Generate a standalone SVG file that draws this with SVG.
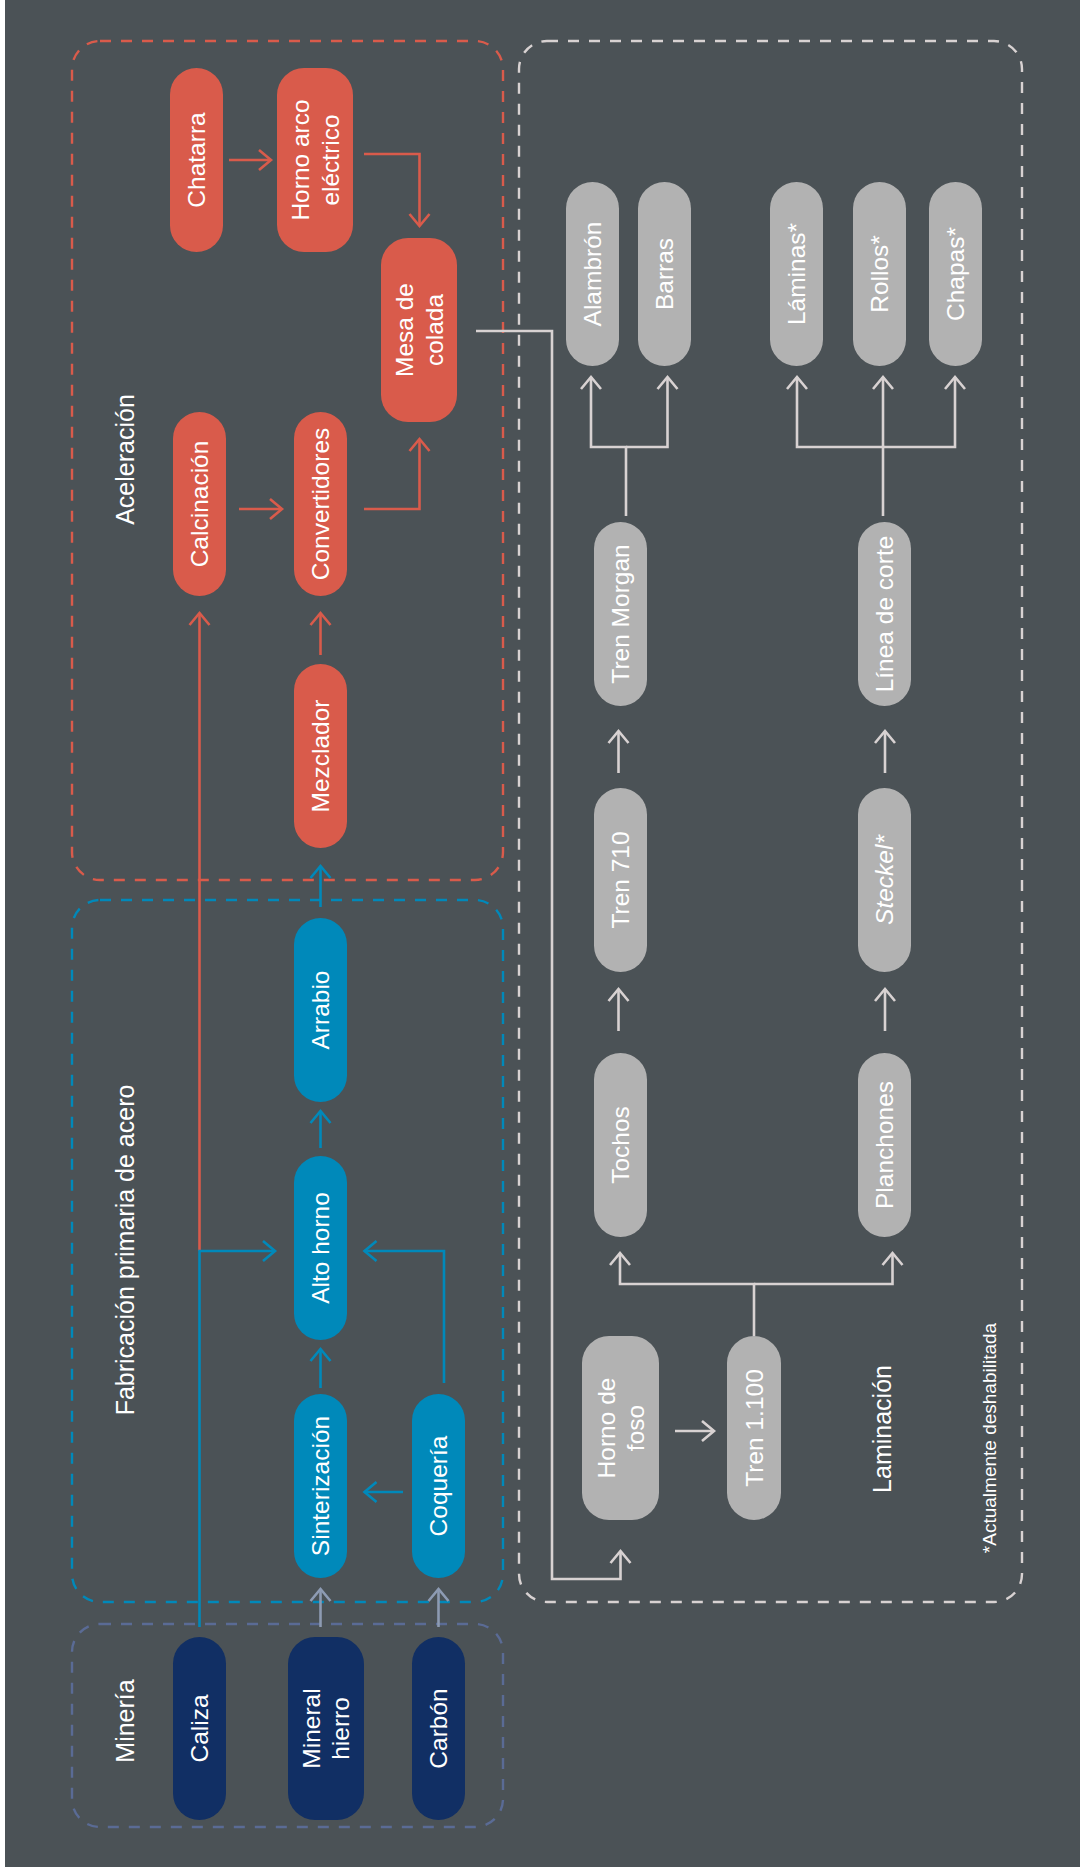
<svg xmlns="http://www.w3.org/2000/svg" width="1080" height="1872" viewBox="0 0 1080 1872">
<defs>
<style>
.t{font-family:"Liberation Sans",Arial,Helvetica,sans-serif;fill:#ffffff;font-size:24.5px;text-anchor:middle}
.lab{font-family:"Liberation Sans",Arial,Helvetica,sans-serif;fill:#ffffff;font-size:25px;text-anchor:middle}
.note{font-family:"Liberation Sans",Arial,Helvetica,sans-serif;fill:#ffffff;font-size:19px;text-anchor:middle}
.red{fill:#d95b4b}
.blue{fill:#0089ba}
.navy{fill:#112f64}
.grey{fill:#b2b2b2}
.box{fill:none;stroke-width:2.4;stroke-dasharray:11 10}
.c{fill:none;stroke-width:2.6;stroke-linejoin:miter}
.cr{stroke:#d95b4b;marker-end:url(#ar)}
.cb{stroke:#0089ba;marker-end:url(#ab)}
.cs{stroke:#8d9bb3;marker-end:url(#as)}
.cl{stroke:#d8d2d2;marker-end:url(#al)}
.nm{marker-end:none}
</style>
<marker id="ar" viewBox="-15 -12 20 24" refX="0" refY="0" markerWidth="20" markerHeight="24" markerUnits="userSpaceOnUse" orient="auto"><path d="M-12,-10 L0,0 L-12,10" fill="none" stroke="#d95b4b" stroke-width="2.6"/></marker>
<marker id="ab" viewBox="-15 -12 20 24" refX="0" refY="0" markerWidth="20" markerHeight="24" markerUnits="userSpaceOnUse" orient="auto"><path d="M-12,-10 L0,0 L-12,10" fill="none" stroke="#0089ba" stroke-width="2.6"/></marker>
<marker id="as" viewBox="-15 -12 20 24" refX="0" refY="0" markerWidth="20" markerHeight="24" markerUnits="userSpaceOnUse" orient="auto"><path d="M-12,-10 L0,0 L-12,10" fill="none" stroke="#8d9bb3" stroke-width="2.6"/></marker>
<marker id="al" viewBox="-15 -12 20 24" refX="0" refY="0" markerWidth="20" markerHeight="24" markerUnits="userSpaceOnUse" orient="auto"><path d="M-12,-10 L0,0 L-12,10" fill="none" stroke="#d8d2d2" stroke-width="2.6"/></marker>
</defs>
<rect x="0" y="0" width="1080" height="1872" fill="#ffffff"/>
<rect x="5" y="0" width="1075" height="1867" fill="#4b5256"/>

<g id="groups">
<g id="g-aceleracion"><rect class="box" x="72" y="41" width="431" height="839" rx="28" stroke="#d95b4b"/><text class="lab" transform="translate(125,459.5) rotate(-90)" dy="0.35em">Aceleración</text></g>
<g id="g-fabricacion"><rect class="box" x="72" y="900" width="431" height="702" rx="28" stroke="#0089ba"/><text class="lab" transform="translate(125,1250) rotate(-90)" dy="0.35em">Fabricación primaria de acero</text></g>
<g id="g-mineria"><rect class="box" x="72" y="1624" width="431" height="203" rx="28" stroke="#5a6b95"/><text class="lab" transform="translate(125,1721) rotate(-90)" dy="0.35em">Minería</text></g>
<g id="g-laminacion"><rect class="box" x="519" y="41" width="503" height="1561" rx="28" stroke="#d8d2d2"/><text class="lab" transform="translate(882,1429) rotate(-90)" dy="0.35em">Laminación</text><text class="note" transform="translate(989,1438) rotate(-90)" dy="0.35em">*Actualmente deshabilitada</text></g>
</g>

<g id="connectors">
<path class="c cr" d="M229,160 H271"/>
<path class="c cr" d="M364,154 H419.5 V226"/>
<path class="c cr" d="M239,509 H282"/>
<path class="c cr" d="M364,509 H419.5 V439"/>
<path class="c cr" d="M320.5,655 V613"/>
<path class="c cr" d="M199.5,1251 V613"/>
<path class="c cb" d="M320.5,907 V866"/>
<path class="c cb" d="M320.5,1148 V1111"/>
<path class="c cb" d="M320.5,1388 V1349"/>
<path class="c cb" d="M199.5,1627 V1251 H275"/>
<path class="c cb" d="M444,1383 V1251 H364.5"/>
<path class="c cb" d="M403,1492 H364.5"/>
<path class="c cs" d="M320.5,1627 V1589"/>
<path class="c cs" d="M438.5,1627 V1589"/>
<path class="c cl" d="M476,331 H552 V1579 H620.5 V1551"/>
<path class="c cl" d="M675,1431 H714"/>
<path class="c cl" d="M754,1336 V1284 H620 V1253"/>
<path class="c cl" d="M754,1284 H892.5 V1253"/>
<path class="c cl" d="M618.5,1031 V989"/>
<path class="c cl" d="M885,1031 V989"/>
<path class="c cl" d="M618.5,773 V731"/>
<path class="c cl" d="M885,773 V731"/>
<path class="c cl" d="M626,516 V447 H591 V377"/>
<path class="c cl" d="M626,447 H667.5 V377"/>
<path class="c cl" d="M883,516 V447 H797 V377"/>
<path class="c cl" d="M883,447 H955 V377"/>
<path class="c cl" d="M883,447 V377"/>
</g>

<g id="n-chatarra"><rect class="red" x="170" y="68" width="53" height="184" rx="26.5"/><text class="t" transform="translate(196.5,160) rotate(-90)" dy="0.35em">Chatarra</text></g>
<g id="n-horno-arco"><rect class="red" x="277" y="68" width="76" height="184" rx="27"/><text class="t" transform="translate(315,160) rotate(-90)"><tspan x="0" y="-15" dy="0.35em">Horno arco</tspan><tspan x="0" y="15" dy="0.35em">eléctrico</tspan></text></g>
<g id="n-mesa"><rect class="red" x="381" y="238" width="76" height="184" rx="27"/><text class="t" transform="translate(419,330) rotate(-90)"><tspan x="0" y="-15" dy="0.35em">Mesa de</tspan><tspan x="0" y="15" dy="0.35em">colada</tspan></text></g>
<g id="n-calcinacion"><rect class="red" x="173" y="412" width="53" height="184" rx="26.5"/><text class="t" transform="translate(199.5,504) rotate(-90)" dy="0.35em">Calcinación</text></g>
<g id="n-convertidores"><rect class="red" x="294" y="412" width="53" height="184" rx="26.5"/><text class="t" transform="translate(320.5,504) rotate(-90)" dy="0.35em">Convertidores</text></g>
<g id="n-mezclador"><rect class="red" x="294" y="664" width="53" height="184" rx="26.5"/><text class="t" transform="translate(320.5,756) rotate(-90)" dy="0.35em">Mezclador</text></g>

<g id="n-arrabio"><rect class="blue" x="294" y="918" width="53" height="184" rx="26.5"/><text class="t" transform="translate(320.5,1010) rotate(-90)" dy="0.35em">Arrabio</text></g>
<g id="n-alto-horno"><rect class="blue" x="294" y="1156" width="53" height="184" rx="26.5"/><text class="t" transform="translate(320.5,1248) rotate(-90)" dy="0.35em">Alto horno</text></g>
<g id="n-sinterizacion"><rect class="blue" x="294" y="1394" width="53" height="184" rx="26.5"/><text class="t" transform="translate(320.5,1486) rotate(-90)" dy="0.35em">Sinterización</text></g>
<g id="n-coqueria"><rect class="blue" x="412" y="1394" width="53" height="184" rx="26.5"/><text class="t" transform="translate(438.5,1486) rotate(-90)" dy="0.35em">Coquería</text></g>

<g id="n-caliza"><rect class="navy" x="173" y="1637" width="53" height="183" rx="26.5"/><text class="t" transform="translate(199.5,1728.5) rotate(-90)" dy="0.35em">Caliza</text></g>
<g id="n-mineral"><rect class="navy" x="288" y="1637" width="76" height="183" rx="27"/><text class="t" transform="translate(326,1728.5) rotate(-90)"><tspan x="0" y="-14.5" dy="0.35em">Mineral</tspan><tspan x="0" y="14.5" dy="0.35em">hierro</tspan></text></g>
<g id="n-carbon"><rect class="navy" x="412" y="1637" width="53" height="183" rx="26.5"/><text class="t" transform="translate(438.5,1728.5) rotate(-90)" dy="0.35em">Carbón</text></g>

<g id="n-alambron"><rect class="grey" x="566" y="182" width="53" height="184" rx="26.5"/><text class="t" transform="translate(592.5,274) rotate(-90)" dy="0.35em">Alambrón</text></g>
<g id="n-barras"><rect class="grey" x="638" y="182" width="53" height="184" rx="26.5"/><text class="t" transform="translate(664.5,274) rotate(-90)" dy="0.35em">Barras</text></g>
<g id="n-laminas"><rect class="grey" x="770" y="182" width="53" height="184" rx="26.5"/><text class="t" transform="translate(796.5,274) rotate(-90)" dy="0.35em">Láminas*</text></g>
<g id="n-rollos"><rect class="grey" x="853" y="182" width="53" height="184" rx="26.5"/><text class="t" transform="translate(879.5,274) rotate(-90)" dy="0.35em">Rollos*</text></g>
<g id="n-chapas"><rect class="grey" x="929" y="182" width="53" height="184" rx="26.5"/><text class="t" transform="translate(955.5,274) rotate(-90)" dy="0.35em">Chapas*</text></g>
<g id="n-tren-morgan"><rect class="grey" x="594" y="522" width="53" height="184" rx="26.5"/><text class="t" transform="translate(620.5,614) rotate(-90)" dy="0.35em">Tren Morgan</text></g>
<g id="n-linea-corte"><rect class="grey" x="858" y="522" width="53" height="184" rx="26.5"/><text class="t" transform="translate(884.5,614) rotate(-90)" dy="0.35em">Línea de corte</text></g>
<g id="n-tren-710"><rect class="grey" x="594" y="788" width="53" height="184" rx="26.5"/><text class="t" transform="translate(620.5,880) rotate(-90)" dy="0.35em">Tren 710</text></g>
<g id="n-steckel"><rect class="grey" x="858" y="788" width="53" height="184" rx="26.5"/><text class="t" transform="translate(884.5,880) rotate(-90)" dy="0.35em" font-style="italic">Steckel*</text></g>
<g id="n-tochos"><rect class="grey" x="594" y="1053" width="53" height="184" rx="26.5"/><text class="t" transform="translate(620.5,1145) rotate(-90)" dy="0.35em">Tochos</text></g>
<g id="n-planchones"><rect class="grey" x="858" y="1053" width="53" height="184" rx="26.5"/><text class="t" transform="translate(884.5,1145) rotate(-90)" dy="0.35em">Planchones</text></g>
<g id="n-horno-foso"><rect class="grey" x="582" y="1336" width="77" height="184" rx="27"/><text class="t" transform="translate(620.5,1428) rotate(-90)"><tspan x="0" y="-14.5" dy="0.35em">Horno de</tspan><tspan x="0" y="14.5" dy="0.35em">foso</tspan></text></g>
<g id="n-tren-1100"><rect class="grey" x="727" y="1336" width="54" height="184" rx="27"/><text class="t" transform="translate(754,1428) rotate(-90)" dy="0.35em">Tren 1.100</text></g>
</svg>
